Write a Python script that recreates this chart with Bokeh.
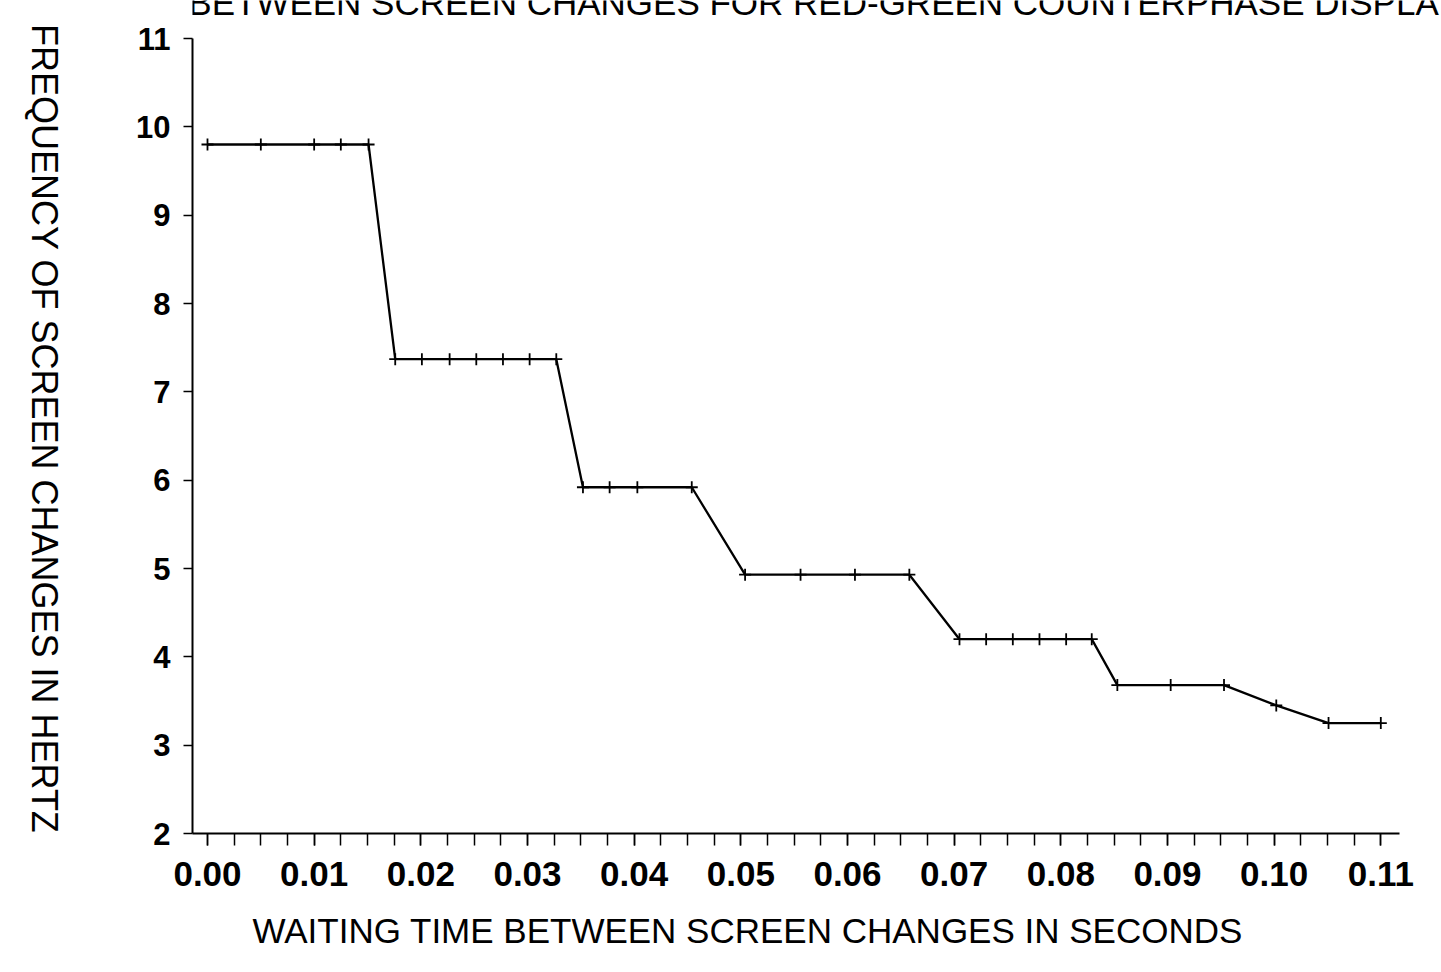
import math
from bokeh.plotting import figure
from bokeh.models import Label, FixedTicker, PrintfTickFormatter, Range1d, Title
from bokeh.embed import file_html
from bokeh.resources import INLINE

# Data
waiting_time = [0.0000, 0.0050, 0.0100, 0.0125, 0.0151,
                0.0176, 0.0201, 0.0227, 0.0252, 0.0277, 0.0302, 0.0327,
                0.0352, 0.0377, 0.0403, 0.0454,
                0.0504, 0.0556, 0.0607, 0.0658,
                0.0705, 0.0730, 0.0755, 0.0780, 0.0805, 0.0829,
                0.0853, 0.0903, 0.0953,
                0.1002, 0.1051, 0.1100]
frequency = [9.80, 9.80, 9.80, 9.80, 9.80,
             7.37, 7.37, 7.37, 7.37, 7.37, 7.37, 7.37,
             5.92, 5.92, 5.92, 5.92,
             4.93, 4.93, 4.93, 4.93,
             4.20, 4.20, 4.20, 4.20, 4.20, 4.20,
             3.68, 3.68, 3.68,
             3.45, 3.25, 3.25]

x_major_ticks = [0.00, 0.01, 0.02, 0.03, 0.04, 0.05, 0.06, 0.07, 0.08, 0.09, 0.10, 0.11]
x_minor_ticks = [i * 0.0025 for i in range(45)]
y_ticks = [2, 3, 4, 5, 6, 7, 8, 9, 10, 11]

title_text = "BETWEEN SCREEN CHANGES FOR RED-GREEN COUNTERPHASE DISPLAY"
x_label_text = "WAITING TIME BETWEEN SCREEN CHANGES IN SECONDS"
y_label_text = "FREQUENCY OF SCREEN CHANGES IN HERTZ"

FONT = "Liberation Sans"

p = figure(width=1441, height=970,
           x_range=Range1d(-0.001406, 0.11569), y_range=Range1d(2, 11.4304),
           output_backend="svg", toolbar_location=None,
           min_border_left=192, min_border_top=0,
           min_border_bottom=137, min_border_right=0)
p.outline_line_color = None
p.grid.visible = False
p.background_fill_color = "white"
p.border_fill_color = "white"

p.line(waiting_time, frequency, line_color="black", line_width=2.3)
p.scatter(waiting_time, frequency, marker="cross", size=12,
          line_color="black", line_width=1.8)

# x axis
xa = p.xaxis[0]
xa.bounds = (-0.001406, 0.11175)
xa.ticker = FixedTicker(ticks=x_major_ticks, minor_ticks=x_minor_ticks)
xa.formatter = PrintfTickFormatter(format="%.2f")
xa.axis_line_width = 2
xa.axis_line_color = "black"
xa.major_tick_in = 0
xa.major_tick_out = 12
xa.minor_tick_in = 0
xa.minor_tick_out = 12
xa.major_tick_line_width = 1.5
xa.minor_tick_line_width = 1.5
xa.major_tick_line_color = "black"
xa.minor_tick_line_color = "black"
xa.major_label_text_font = FONT
xa.major_label_text_font_style = "bold"
xa.major_label_text_font_size = "35px"
xa.major_label_text_color = "black"
xa.major_label_standoff = 16

# x label as a title below the axis, offset to match the reference
p.add_layout(Title(text=x_label_text, align="left", offset=60, standoff=41,
                   text_font=FONT, text_font_style="normal",
                   text_font_size="35px", text_color="black"), "below")

# y axis
ya = p.yaxis[0]
ya.bounds = (2, 11)
ya.ticker = FixedTicker(ticks=y_ticks, minor_ticks=[])
ya.axis_line_width = 2
ya.axis_line_color = "black"
ya.major_tick_in = 0
ya.major_tick_out = 9
ya.major_tick_line_width = 1.5
ya.major_tick_line_color = "black"
ya.minor_tick_line_color = None
ya.major_label_text_font = FONT
ya.major_label_text_font_style = "bold"
ya.major_label_text_font_size = "31px"
ya.major_label_text_color = "black"
ya.major_label_standoff = 13
ya.axis_label = y_label_text
ya.axis_label_orientation = -math.pi / 2
ya.axis_label_align = "start"
ya.axis_label_text_font = FONT
ya.axis_label_text_font_style = "normal"
ya.axis_label_text_font_size = "36px"
ya.axis_label_text_color = "black"
ya.axis_label_standoff = 89

# title, partly cut by the top edge as in the reference
p.add_layout(Label(x=-0.0018, y=11.407, text=title_text,
                   text_font=FONT, text_font_size="35px", text_color="black",
                   text_align="left", text_baseline="alphabetic"))

open("out.html", "w").write(file_html(p, INLINE))
